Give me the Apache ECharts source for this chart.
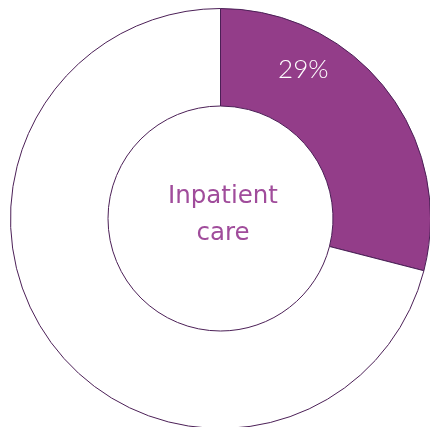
<!DOCTYPE html>
<html>
<head>
<meta charset="utf-8">
<script src="https://cdn.jsdelivr.net/npm/echarts@6/dist/echarts.min.js"></script>
<style>
html,body{margin:0;padding:0;background:#fff;}
#chart{width:430px;height:427px;}
</style>
</head>
<body>
<div id="chart"></div>
<script>
const categories = ['Inpatient care', 'Other'];
const values = [29, 71];
const labels = ['29%', ''];
const centerText = 'Inpatient\ncare';

const chart = echarts.init(document.getElementById('chart'), null, {renderer: 'canvas'});
chart.setOption({
  animation: false,
  title: {
    text: centerText,
    left: 218,
    top: 173,
    textAlign: 'center',
    textStyle: {
      fontFamily: 'DejaVu Sans',
      fontWeight: 'normal',
      fontSize: 24.5,
      lineHeight: 37,
      color: '#a04c9b'
    }
  },
  series: [{
    type: 'pie',
    center: [220.5, 218.5],
    radius: [112.5, 210],
    startAngle: 90,
    clockwise: true,
    avoidLabelOverlap: false,
    labelLine: {show: false},
    emphasis: {disabled: true},
    itemStyle: {borderColor: '#4b1f56', borderWidth: 1},
    data: categories.map((c, i) => ({
      name: c,
      value: values[i],
      itemStyle: {color: i === 0 ? '#933d89' : '#ffffff'},
      label: {
        show: labels[i] !== '',
        position: 'inside',
        formatter: labels[i],
        offset: [-47, -48],
        fontFamily: 'Lato',
        fontWeight: 300,
        fontSize: 26,
        color: '#ffffff'
      }
    }))
  }]
});
</script>
</body>
</html>
